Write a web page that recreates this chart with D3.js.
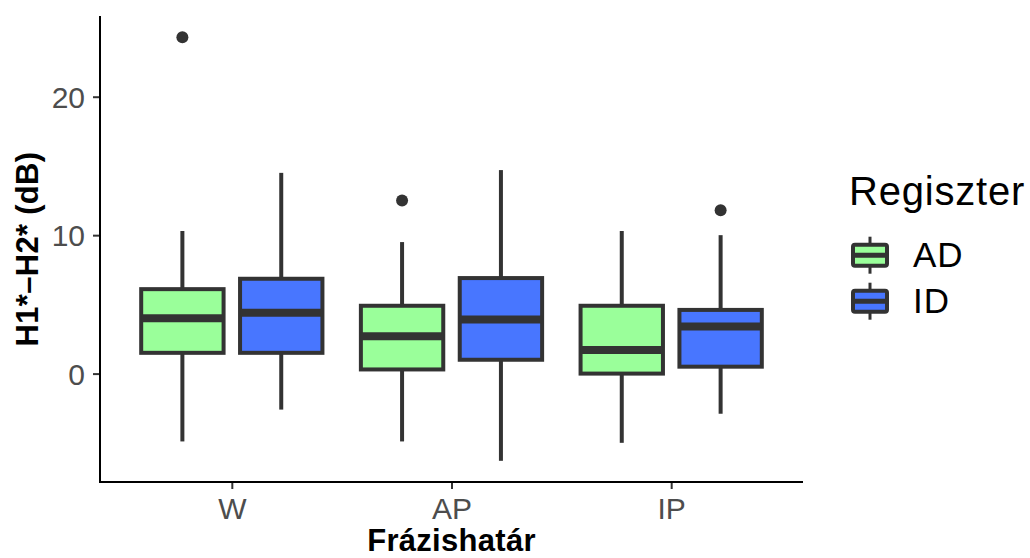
<!DOCTYPE html>
<html>
<head>
<meta charset="utf-8">
<script src="https://cdn.jsdelivr.net/npm/d3@7"></script>
<style>
  body { margin: 0; background: #fff; }
  text { font-family: "Liberation Sans", Arial, sans-serif; }
</style>
</head>
<body>
<svg id="chart" width="1030" height="558"></svg>
<script>
// categories and groups
var cats = ['W', 'AP', 'IP']
var groups = ['AD', 'ID']
var colors = ['#9AFF9A', '#4876FF']

// box stats per category, one array per group: [lower whisker, q1, median, q3, upper whisker]
var statsAD = [
  [-4.9, 1.5, 4.0, 6.1, 10.3],
  [-4.9, 0.3, 2.7, 4.9, 9.5],
  [-5.0, 0.0, 1.7, 4.9, 10.3]
]
var statsID = [
  [-2.6, 1.5, 4.4, 6.85, 14.5],
  [-6.3, 1.0, 3.9, 6.9, 14.7],
  [-2.9, 0.5, 3.4, 4.6, 10.0]
]
var outliersAD = [[24.3], [12.5], []]
var outliersID = [[], [], [11.8]]
var yTicks = [0, 10, 20]

;(function (d3) {
  var svg = d3.select('#chart')
  var left = 100, right = 803, top = 16, bottom = 482

  var boxes = []
  cats.forEach(function (c, i) {
    [statsAD, statsID].forEach(function (s, g) {
      var st = s[i]
      boxes.push({
        cat: c, grp: groups[g], color: colors[g],
        lo: st[0], q1: st[1], med: st[2], q3: st[3], hi: st[4],
        out: (g === 0 ? outliersAD : outliersID)[i]
      })
    })
  })

  var allVals = []
  boxes.forEach(function (b) { allVals.push(b.lo, b.hi); allVals = allVals.concat(b.out) })
  var ext = d3.extent(allVals)
  var pad = (ext[1] - ext[0]) * 0.05

  var x = d3.scalePoint().domain(cats).range([left, right]).padding(0.6)
  var step = x.step()
  var xg = d3.scaleBand().domain(groups).range([-0.45 * step, 0.45 * step])
  var boxW = step * 0.375
  var y = d3.scaleLinear().domain([ext[0] - pad, ext[1] + pad]).range([bottom, top])

  function cx (b) { return x(b.cat) + xg(b.grp) + xg.bandwidth() / 2 }

  var dark = '#333333'
  var g = svg.append('g')

  // whiskers
  g.selectAll('line.wlo').data(boxes).enter().append('line')
    .attr('x1', cx).attr('x2', cx)
    .attr('y1', function (d) { return y(d.lo) })
    .attr('y2', function (d) { return y(d.q1) })
    .attr('stroke', dark).attr('stroke-width', 4)
  g.selectAll('line.whi').data(boxes).enter().append('line')
    .attr('x1', cx).attr('x2', cx)
    .attr('y1', function (d) { return y(d.hi) })
    .attr('y2', function (d) { return y(d.q3) })
    .attr('stroke', dark).attr('stroke-width', 4)

  // boxes
  g.selectAll('rect.box').data(boxes).enter().append('rect')
    .attr('x', function (d) { return cx(d) - boxW / 2 })
    .attr('width', boxW)
    .attr('y', function (d) { return y(d.q3) })
    .attr('height', function (d) { return y(d.q1) - y(d.q3) })
    .attr('fill', function (d) { return d.color })
    .attr('stroke', dark).attr('stroke-width', 4)

  // medians
  g.selectAll('line.med').data(boxes).enter().append('line')
    .attr('x1', function (d) { return cx(d) - boxW / 2 })
    .attr('x2', function (d) { return cx(d) + boxW / 2 })
    .attr('y1', function (d) { return y(d.med) })
    .attr('y2', function (d) { return y(d.med) })
    .attr('stroke', dark).attr('stroke-width', 8)

  // outliers
  var outs = []
  boxes.forEach(function (b) { b.out.forEach(function (v) { outs.push({b: b, v: v}) }) })
  g.selectAll('circle').data(outs).enter().append('circle')
    .attr('cx', function (d) { return cx(d.b) })
    .attr('cy', function (d) { return y(d.v) })
    .attr('r', 6)
    .attr('fill', dark)

  // axes
  var yAxis = svg.append('g').attr('transform', 'translate(' + left + ',0)')
    .call(d3.axisLeft(y).tickValues(yTicks).tickSize(7).tickPadding(8))
  var xAxis = svg.append('g').attr('transform', 'translate(0,' + bottom + ')')
    .call(d3.axisBottom(x).tickSize(7).tickPadding(9))

  ;[xAxis, yAxis].forEach(function (a) {
    a.select('.domain').remove()
    a.selectAll('.tick line').attr('stroke', dark).attr('stroke-width', 2)
    a.selectAll('.tick text').attr('fill', '#4d4d4d').style('font-size', '30px')
  })
  yAxis.selectAll('.tick text').attr('dy', '0.35em')
  xAxis.selectAll('.tick text').attr('dy', '0.71em')

  svg.append('line').attr('x1', left).attr('x2', left).attr('y1', top).attr('y2', bottom + 1)
    .attr('stroke', '#000').attr('stroke-width', 2)
  svg.append('line').attr('x1', left - 1).attr('x2', right).attr('y1', bottom).attr('y2', bottom)
    .attr('stroke', '#000').attr('stroke-width', 2)

  // axis titles
  svg.append('text').attr('x', (left + right) / 2).attr('y', 551)
    .attr('text-anchor', 'middle').style('font-size', '31px').style('font-weight', 'bold')
    .style('letter-spacing', '0.3px')
    .text('Frázishatár')
  svg.append('text').attr('transform', 'translate(38,' + (top + bottom) / 2 + ') rotate(-90)')
    .attr('text-anchor', 'middle').style('font-size', '31px').style('font-weight', 'bold')
    .style('letter-spacing', '0.3px')
    .text('H1*–H2* (dB)')

  // legend
  var leg = svg.append('g')
  leg.append('text').attr('x', 849).attr('y', 205).style('font-size', '40px').attr('fill', '#000')
    .style('letter-spacing', '0.8px')
    .text('Regiszter')
  groups.forEach(function (gr, i) {
    var ky = 255.2 + i * 46
    var k = leg.append('g')
    k.append('line').attr('x1', 870).attr('x2', 870).attr('y1', ky - 18.5).attr('y2', ky + 18.5)
      .attr('stroke', dark).attr('stroke-width', 3)
    k.append('rect').attr('x', 853).attr('y', ky - 10.5).attr('width', 34).attr('height', 21)
      .attr('rx', 2).attr('fill', colors[i]).attr('stroke', dark).attr('stroke-width', 4)
    k.append('line').attr('x1', 853).attr('x2', 887).attr('y1', ky).attr('y2', ky)
      .attr('stroke', dark).attr('stroke-width', 5)
    leg.append('text').attr('x', 913).attr('y', ky + 12).style('font-size', '35px').attr('fill', '#000')
      .style('letter-spacing', '1px')
      .text(gr)
  })
})(window.d3)
</script>
</body>
</html>
